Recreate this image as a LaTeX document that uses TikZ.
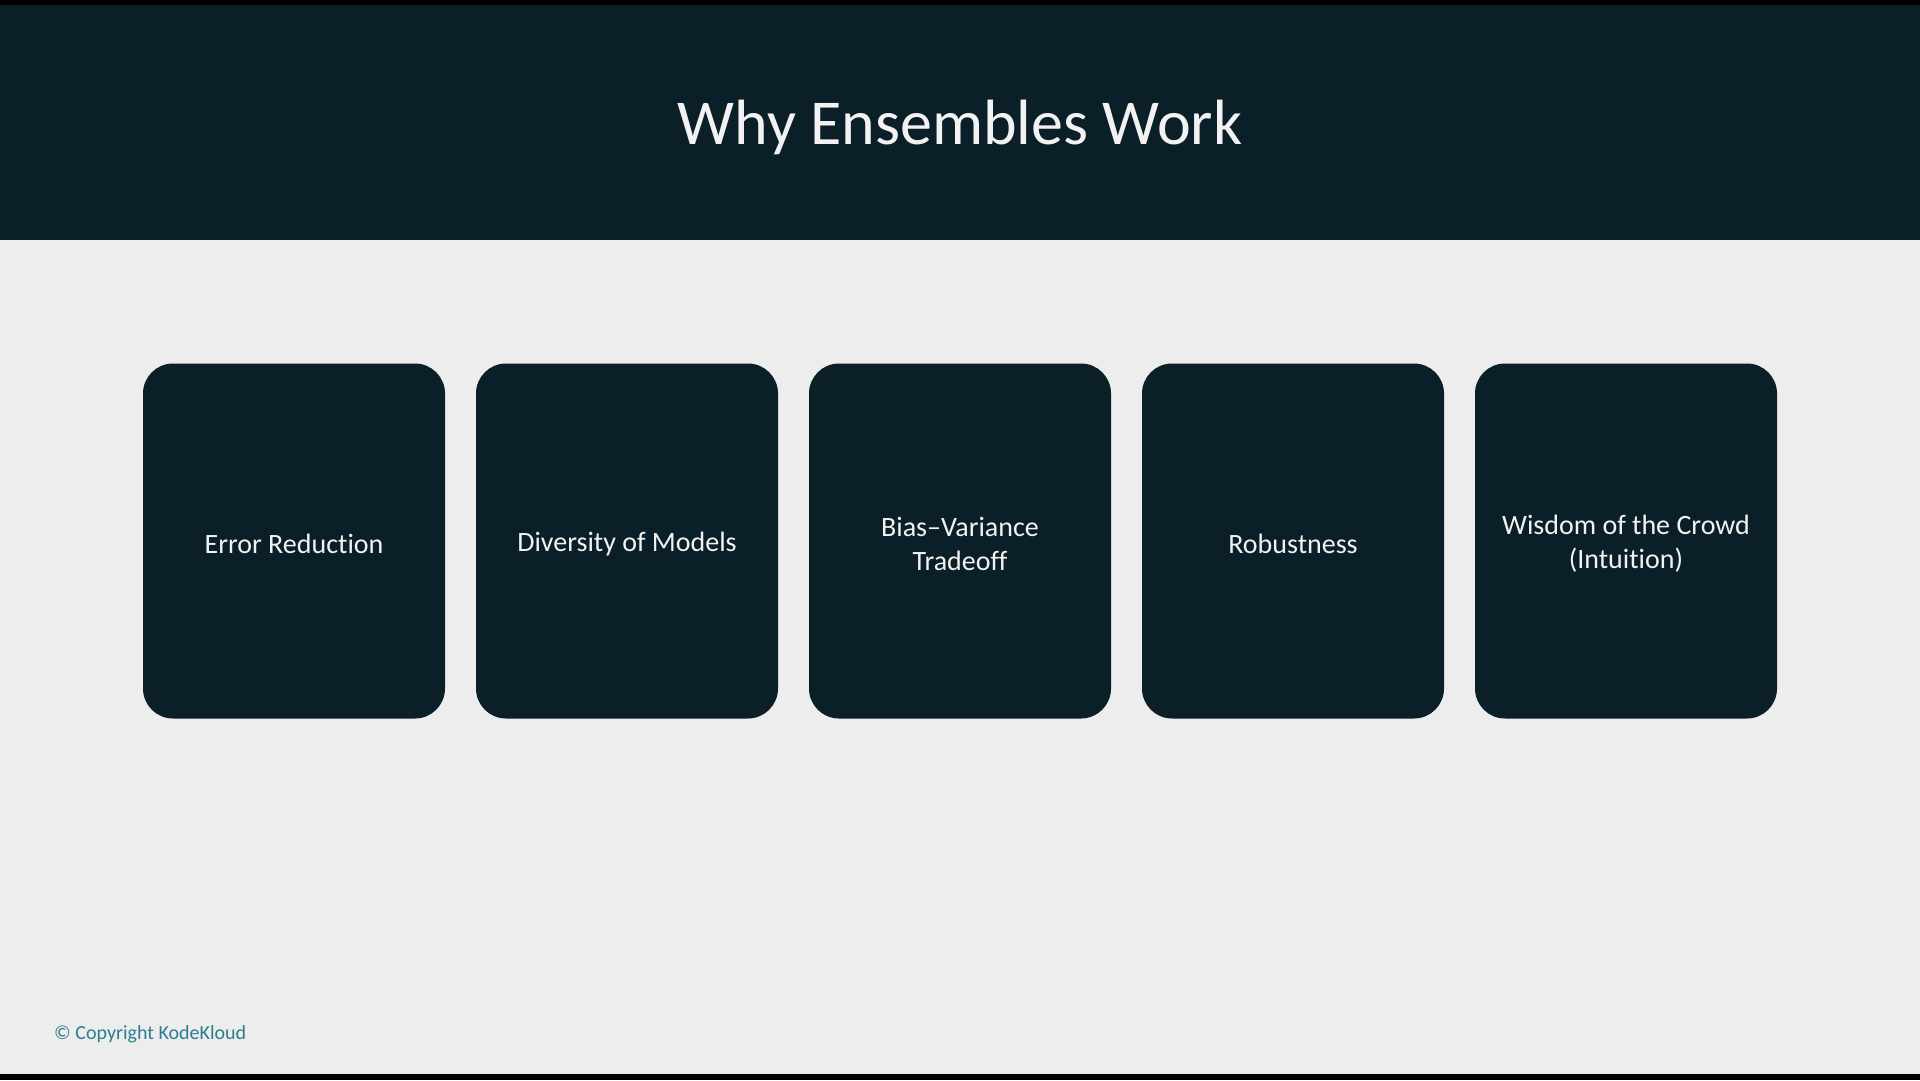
\documentclass[tikz,border=0pt]{standalone}
\usepackage{fontspec}
\setmainfont{Carlito}[Ligatures=NoCommon]
\usepackage{tikz}
\usetikzlibrary{positioning}
\definecolor{slidedark}{HTML}{0B1F28}
\definecolor{slidelight}{HTML}{EDEDED}
\definecolor{slidetext}{HTML}{F2F2F2}
\definecolor{copyteal}{HTML}{2A7F8E}
\tikzset{
  reasonbox/.style={fill=slidedark,rounded corners=30pt,minimum width=302pt,minimum height=355pt,
    inner sep=0pt},
  reasontext/.style={text=slidetext,align=center,font=\fontsize{28}{34}\selectfont,inner sep=0pt}
}
\begin{document}
\begin{tikzpicture}[x=1pt,y=-1pt]
\useasboundingbox (0,0) rectangle (1920,1080);
\fill[color=slidelight] (0,0) rectangle (1920,1080);
\fill[color=black] (0,0) rectangle (1920,5);
\fill[color=slidedark] (0,5) rectangle (1920,240);
\fill[color=black] (0,1074) rectangle (1920,1080);
\node[text=slidetext,font=\fontsize{64}{76}\selectfont] (title) at (960,127) {Why Ensembles Work};
\node[reasonbox] (error) at (294,541) {};
\node[reasonbox] (diversity) at (627,541) {};
\node[reasonbox] (tradeoff) at (960,541) {};
\node[reasonbox] (robust) at (1293,541) {};
\node[reasonbox] (crowd) at (1626,541) {};
\node[reasontext] (errortxt) at ([yshift=-3pt]error.center) {Error Reduction};
\node[reasontext] (diversitytxt) at ([yshift=-3pt]diversity.center) {Diversity of Models};
\node[reasontext] (tradeofftxt) at ([yshift=-3pt]tradeoff.center) {Bias–Variance\\Tradeoff};
\node[reasontext] (robusttxt) at ([yshift=-3pt]robust.center) {Robustness};
\node[reasontext] (crowdtxt) at ([yshift=-3pt]crowd.center) {Wisdom of the Crowd\\(Intuition)};
\node[anchor=west,text=copyteal,font=\fontsize{20}{24}\selectfont,inner sep=0pt] (copy) at (54,1034) {© Copyright KodeKloud};
\end{tikzpicture}
\end{document}
